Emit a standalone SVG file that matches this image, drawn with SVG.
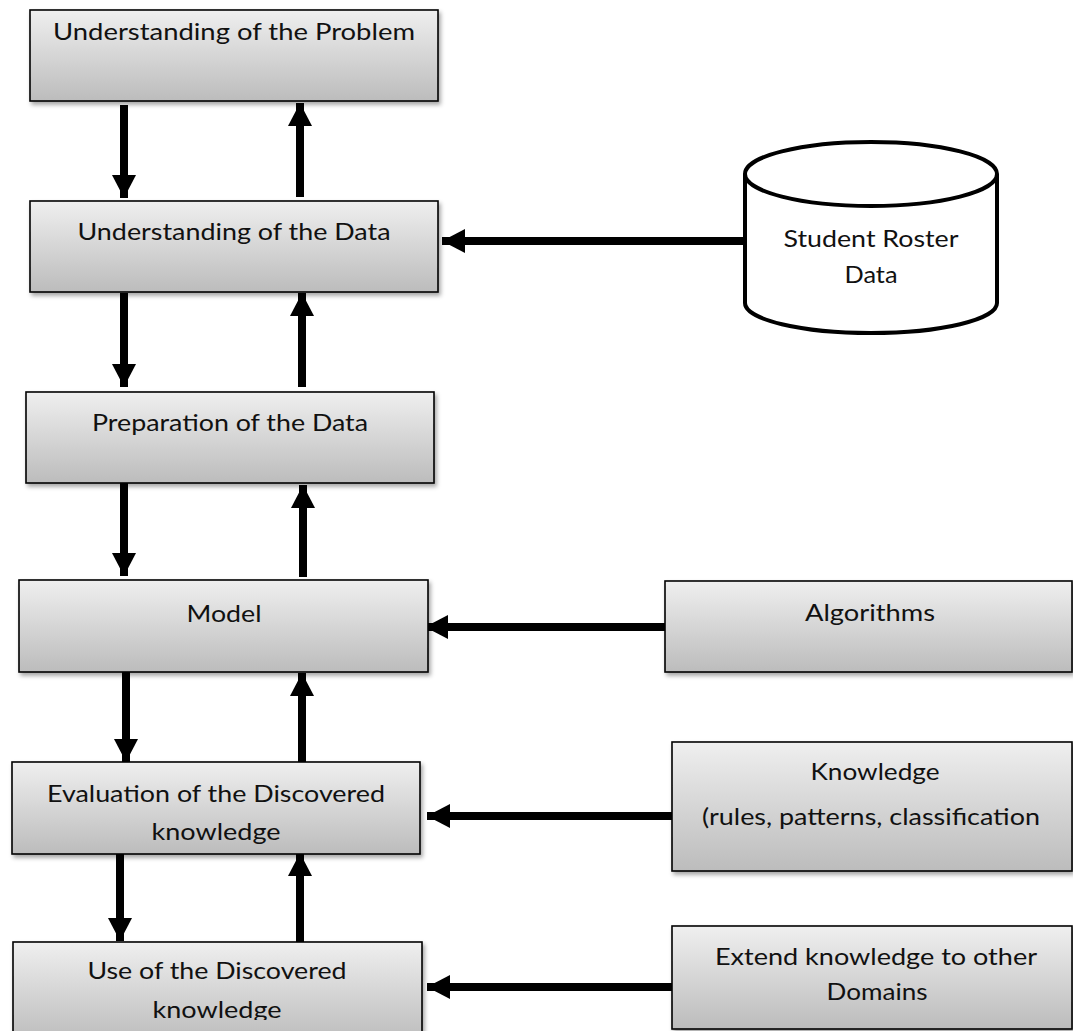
<svg xmlns="http://www.w3.org/2000/svg" width="1073" height="1031" viewBox="0 0 1073 1031">
  <style>
    .box { fill: url(#g); stroke: #000; stroke-width: 1.6; filter: url(#sh); }
    .t { font-family: Lato, "Open Sans", "Liberation Sans", sans-serif; font-size: 24px; fill: #111; text-anchor: middle; }
    .c { stroke: #000; stroke-width: 8; fill: none; marker-end: url(#ah); }
    .cyl { fill: #fff; stroke: #000; stroke-width: 4; }
  </style>
  <defs>
    <linearGradient id="g" x1="0" y1="0" x2="0" y2="1">
      <stop offset="0" stop-color="#efefef"/>
      <stop offset="1" stop-color="#bcbcbc"/>
    </linearGradient>
    <filter id="sh" x="-5%" y="-10%" width="115%" height="130%">
      <feDropShadow dx="2" dy="3" stdDeviation="2" flood-color="#000" flood-opacity="0.35"/>
    </filter>
    <marker id="ah" markerUnits="userSpaceOnUse" markerWidth="24" markerHeight="24" refX="23" refY="12" orient="auto">
      <path d="M0,0 L23,12 L0,24 Z" fill="#000"/>
    </marker>
    <clipPath id="c5"><rect x="12" y="762" width="408" height="82"/></clipPath>
    <clipPath id="c6"><rect x="13" y="942" width="409" height="78"/></clipPath>
  </defs>

  <g id="connectors">
    <line class="c" x1="124" y1="105" x2="124" y2="198"/>
    <line class="c" x1="300" y1="197" x2="300" y2="103"/>
    <line class="c" x1="124" y1="293" x2="124" y2="387"/>
    <line class="c" x1="302" y1="387" x2="302" y2="293"/>
    <line class="c" x1="124" y1="483" x2="124" y2="576"/>
    <line class="c" x1="303" y1="577" x2="303" y2="485"/>
    <line class="c" x1="126" y1="670" x2="126" y2="762"/>
    <line class="c" x1="302" y1="763" x2="302" y2="673"/>
    <line class="c" x1="120" y1="852" x2="120" y2="941"/>
    <line class="c" x1="300" y1="945" x2="300" y2="853"/>
    <line class="c" x1="745" y1="241" x2="442" y2="241"/>
    <line class="c" x1="665" y1="627" x2="425" y2="627"/>
    <line class="c" x1="672" y1="816" x2="427" y2="816"/>
    <line class="c" x1="672" y1="987" x2="427" y2="987"/>
  </g>

  <g id="n-problem">
    <rect class="box" x="30" y="10" width="408" height="91"/>
    <text class="t" x="234" y="40" textLength="362" lengthAdjust="spacingAndGlyphs">Understanding of the Problem</text>
  </g>
  <g id="n-data">
    <rect class="box" x="30" y="201" width="408" height="91"/>
    <text class="t" x="234" y="240" textLength="313" lengthAdjust="spacingAndGlyphs">Understanding of the Data</text>
  </g>
  <g id="n-prep">
    <rect class="box" x="26" y="392" width="408" height="91"/>
    <text class="t" x="230" y="431" textLength="276" lengthAdjust="spacingAndGlyphs">Preparation of the Data</text>
  </g>
  <g id="n-model">
    <rect class="box" x="19" y="580" width="409" height="92"/>
    <text class="t" x="224" y="622" textLength="75" lengthAdjust="spacingAndGlyphs">Model</text>
  </g>
  <g id="n-eval">
    <rect class="box" x="12" y="762" width="408" height="92"/>
    <g clip-path="url(#c5)">
      <text class="t" x="216" y="802" textLength="338" lengthAdjust="spacingAndGlyphs">Evaluation of the Discovered</text>
      <text class="t" x="216" y="840" textLength="129" lengthAdjust="spacingAndGlyphs">knowledge</text>
    </g>
  </g>
  <g id="n-use">
    <rect class="box" x="13" y="942" width="409" height="100"/>
    <g clip-path="url(#c6)">
      <text class="t" x="217" y="979" textLength="259" lengthAdjust="spacingAndGlyphs">Use of the Discovered</text>
      <text class="t" x="217" y="1018" textLength="129" lengthAdjust="spacingAndGlyphs">knowledge</text>
    </g>
  </g>

  <g id="n-roster">
    <path class="cyl" d="M745,174 L745,303 A126,30 0 0 0 997,303 L997,174 A126,32 0 0 0 745,174 Z"/>
    <path class="cyl" d="M745,174 A126,32 0 0 0 997,174" fill="none"/>
    <text class="t" x="871" y="247" textLength="175" lengthAdjust="spacingAndGlyphs">Student Roster</text>
    <text class="t" x="871" y="283" textLength="53" lengthAdjust="spacingAndGlyphs">Data</text>
  </g>
  <g id="n-algorithms">
    <rect class="box" x="665" y="581" width="407" height="91"/>
    <text class="t" x="870" y="621" textLength="130" lengthAdjust="spacingAndGlyphs">Algorithms</text>
  </g>
  <g id="n-knowledge">
    <rect class="box" x="672" y="742" width="400" height="129"/>
    <text class="t" x="875" y="780" textLength="129" lengthAdjust="spacingAndGlyphs">Knowledge</text>
    <text class="t" x="871" y="825" textLength="338" lengthAdjust="spacingAndGlyphs">(rules, patterns, classification</text>
  </g>
  <g id="n-extend">
    <rect class="box" x="672" y="926" width="400" height="103"/>
    <text class="t" x="876" y="965" textLength="322" lengthAdjust="spacingAndGlyphs">Extend knowledge to other</text>
    <text class="t" x="877" y="1000" textLength="101" lengthAdjust="spacingAndGlyphs">Domains</text>
  </g>
</svg>
